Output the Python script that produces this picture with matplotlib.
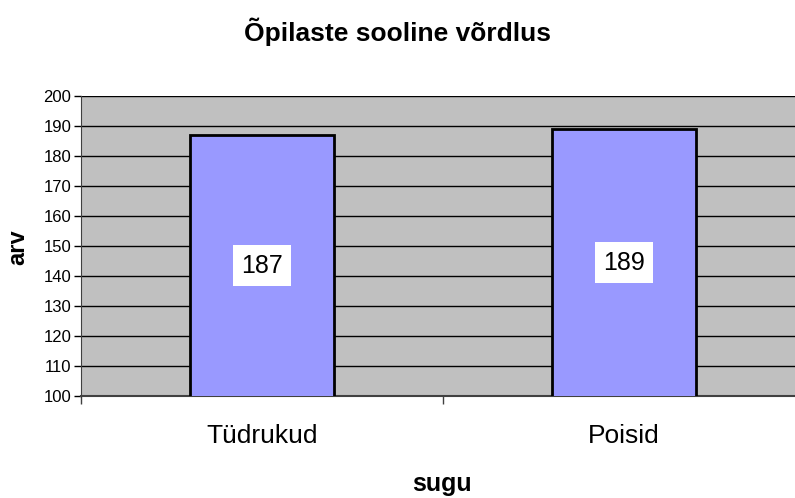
import matplotlib
matplotlib.use('Agg')
import matplotlib.pyplot as plt

plt.rcParams['font.family'] = ['Liberation Sans', 'DejaVu Sans']

# andmed
kategooriad = ['Tüdrukud', 'Poisid']
vaartused = [187, 189]
y_ticks = list(range(100, 201, 10))

fig = plt.figure(figsize=(7.95, 4.98), dpi=100)
ax = fig.add_axes([81/795, 102/498, 724/795, 300/498])

ax.set_facecolor('#C0C0C0')
ax.bar(range(len(kategooriad)), vaartused, width=0.4, color='#9999FF',
       edgecolor='black', linewidth=2, zorder=3, bottom=0)

# vaartuste sildid
for i, v in enumerate(vaartused):
    ax.text(i, (100 + v) / 2, str(v), ha='center', va='center', fontsize=18,
            zorder=4, bbox=dict(facecolor='white', edgecolor='none', pad=6))

ax.set_ylim(100, 200)
ax.set_xlim(-0.5, 1.5)
ax.set_yticks(y_ticks)
ax.yaxis.grid(True, color='black', linewidth=1)
ax.set_axisbelow(True)
ax.tick_params(axis='y', labelsize=12, length=5, width=1, direction='out', pad=2)

ax.set_xticks([-0.5, 0.5, 1.5], minor=False)
ax.set_xticklabels(['', '', ''])
ax.set_xticks([0, 1], minor=True)
ax.set_xticklabels(kategooriad, minor=True)
ax.tick_params(axis='x', which='major', length=6, width=1, color='#404040')
ax.tick_params(axis='x', which='minor', length=0, labelsize=19, pad=20)

for s in ['top', 'right']:
    ax.spines[s].set_visible(False)
ax.spines['left'].set_color('#404040')
ax.spines['bottom'].set_color('#404040')
ax.spines['bottom'].set_linewidth(1.5)

fig.text(397/795, 1 - 32/498, 'Õpilaste sooline võrdlus', ha='center', va='center',
         fontsize=19, fontweight='bold')
fig.text(18/795, 1 - 247/498, 'arv', ha='center', va='center', rotation=90,
         fontsize=17, fontweight='bold')
fig.text(442/795, 1 - 484/498, 'sugu', ha='center', va='center',
         fontsize=18, fontweight='bold')

fig.savefig('out.png', dpi=100)
